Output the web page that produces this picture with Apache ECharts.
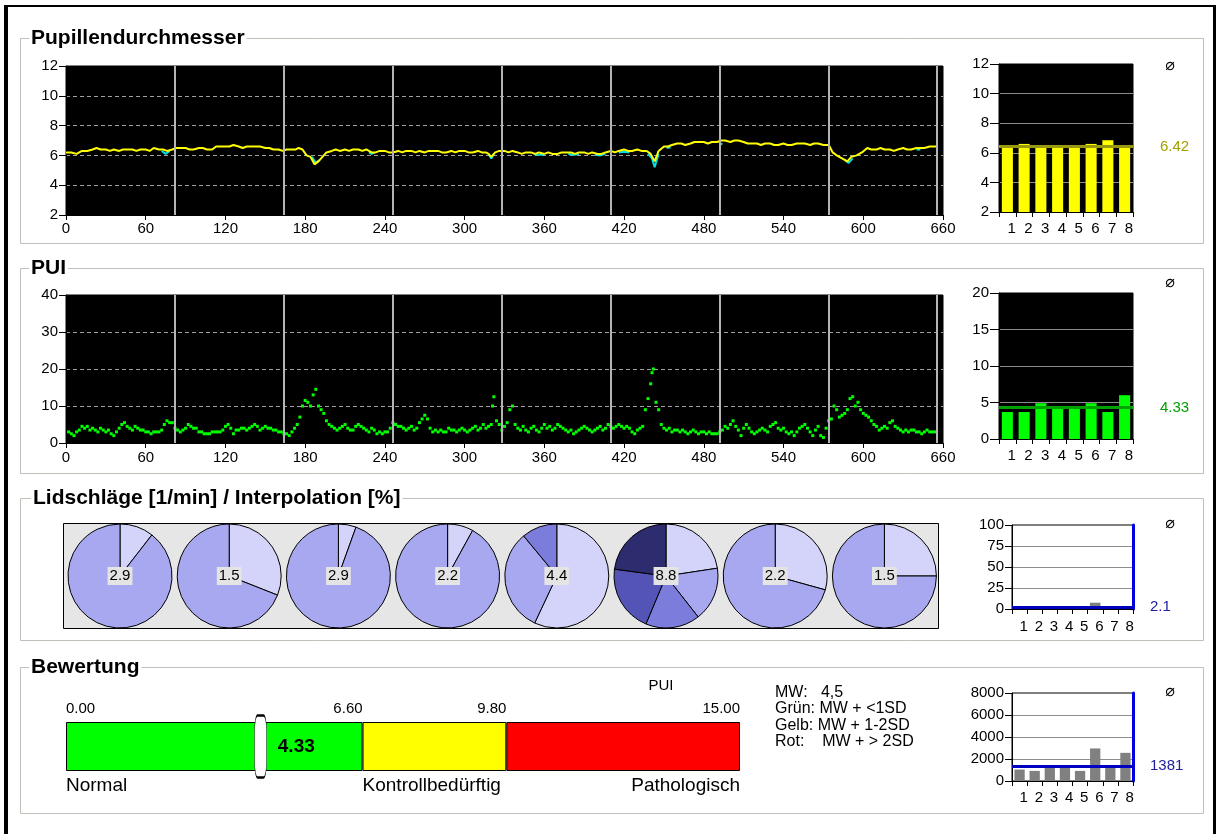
<!DOCTYPE html>
<html>
<head>
<meta charset="utf-8">
<script src="https://cdn.jsdelivr.net/npm/echarts@6/dist/echarts.min.js"></script>
<style>
html, body { margin: 0; padding: 0; background: #fff; }
#main { width: 1218px; height: 834px; }
</style>
</head>
<body>
<div id="main"></div>
<script>
// ---- data ----
var pupilYellow = [[0,6.2],[4,6.2],[8,6.1],[12,6.3],[16,6.3],[20,6.4],[23,6.5],[26,6.4],[30,6.4],[33,6.3],[36,6.4],[40,6.3],[43,6.4],[46,6.4],[50,6.4],[53,6.3],[56,6.4],[60,6.4],[63,6.3],[66,6.5],[70,6.4],[73,6.4],[76,6.3],[80,6.4],[83,6.5],[86,6.5],[90,6.5],[93,6.4],[96,6.4],[100,6.5],[103,6.5],[106,6.4],[110,6.4],[113,6.6],[116,6.6],[120,6.6],[123,6.6],[126,6.7],[130,6.6],[133,6.5],[136,6.6],[140,6.6],[143,6.6],[146,6.6],[150,6.5],[153,6.5],[156,6.4],[160,6.4],[163,6.3],[166,6.4],[170,6.4],[173,6.4],[175,6.5],[178,6.4],[181,6.0],[184,5.9],[187,5.4],[190,5.6],[193,5.9],[196,6.2],[200,6.3],[203,6.4],[206,6.3],[210,6.4],[213,6.3],[216,6.4],[220,6.4],[223,6.3],[226,6.4],[230,6.2],[233,6.2],[236,6.3],[240,6.3],[243,6.2],[246,6.2],[250,6.3],[253,6.2],[256,6.3],[260,6.3],[263,6.2],[266,6.3],[270,6.2],[273,6.3],[276,6.3],[280,6.3],[283,6.2],[286,6.2],[290,6.3],[293,6.2],[296,6.3],[300,6.3],[303,6.2],[306,6.2],[310,6.3],[313,6.2],[316,6.2],[318,6.1],[320,5.9],[323,6.2],[326,6.3],[330,6.3],[333,6.2],[336,6.3],[340,6.2],[343,6.1],[346,6.2],[350,6.2],[353,6.1],[356,6.2],[360,6.1],[363,6.2],[366,6.1],[370,6.1],[373,6.2],[376,6.2],[380,6.2],[383,6.1],[386,6.2],[390,6.2],[393,6.1],[396,6.2],[400,6.1],[403,6.1],[406,6.2],[410,6.3],[413,6.2],[416,6.3],[420,6.4],[423,6.3],[426,6.3],[430,6.4],[433,6.3],[437,6.3],[440,6.1],[443,5.6],[446,6.3],[450,6.6],[453,6.6],[456,6.7],[460,6.8],[463,6.8],[466,6.7],[470,6.8],[473,6.9],[476,6.9],[480,6.9],[483,6.8],[486,6.9],[490,6.9],[493,7.0],[496,7.0],[500,6.9],[503,7.0],[506,7.0],[510,6.9],[513,6.8],[516,6.8],[520,6.8],[523,6.7],[526,6.8],[530,6.8],[533,6.7],[536,6.7],[540,6.8],[543,6.7],[546,6.7],[550,6.8],[553,6.8],[556,6.8],[560,6.7],[563,6.8],[566,6.8],[570,6.7],[574,6.7],[577,6.2],[580,6.0],[584,5.8],[588,5.6],[591,5.9],[595,6.0],[599,6.2],[603,6.5],[606,6.4],[610,6.4],[613,6.5],[616,6.4],[620,6.4],[623,6.3],[626,6.4],[630,6.5],[633,6.4],[636,6.4],[640,6.5],[643,6.5],[646,6.5],[650,6.6],[655,6.6]];
// cyan trace only where it shows under the yellow one (null breaks the line)
var pupilCyan = [[72,6.3],[75,6.1],[78,6.3],[79,null],[185,5.9],[188,5.5],[191,5.7],[192,null],[228,6.2],[230,6.1],[232,6.2],[233,null],[318,6.1],[320,5.8],[322,6.1],[323,null],[352,6.1],[356,6.05],[360,6.05],[361,null],[378,6.1],[382,6.05],[386,6.1],[387,null],[398,6.05],[402,6.0],[406,6.1],[407,null],[416,6.2],[420,6.25],[424,6.2],[425,null],[438,6.1],[441,5.8],[443,5.2],[446,6.1],[447,null],[452,6.5],[455,6.55],[456,null],[492,6.8],[494,6.75],[495,null],[586,5.7],[589,5.5],[592,5.8],[593,null],[640,6.4],[643,6.4]];
var puiPoints = [[2,3],[4,2.5],[6,2],[8,3],[10,3.5],[12,4.5],[14,4],[16,4.5],[18,3.5],[20,4],[22,3.5],[24,3],[26,4],[28,3.5],[30,3],[32,3.5],[34,2.5],[36,2],[38,3],[40,4],[42,5],[44,5.5],[46,4.5],[48,4],[50,3.5],[52,4.5],[54,4],[56,3.5],[58,3.5],[60,3],[62,3],[64,2.5],[66,3],[68,3],[70,3],[72,3.5],[74,5],[76,6],[78,5.5],[80,5.5],[82,4],[84,3.5],[86,3],[88,3.5],[90,4],[92,5],[94,4.5],[96,4],[98,4],[100,3],[102,3],[104,2.5],[106,2.5],[108,2.5],[110,3],[112,3],[114,3],[116,3],[118,3.5],[120,4.5],[122,5],[124,4],[126,2.5],[128,3.5],[130,3.5],[132,4],[134,4],[136,3.5],[138,4],[140,4.5],[142,5],[144,4.5],[146,3.5],[148,4],[150,4.5],[152,4],[154,4],[156,3.5],[158,3.5],[160,3],[162,3],[164,2.5],[166,2.5],[168,2],[170,3],[172,4],[174,5],[176,7],[178,10],[180,11.5],[182,11],[184,10],[186,13],[188,14.5],[190,10],[192,9],[194,8],[196,6],[198,5],[200,4.5],[202,4],[204,3.5],[206,4],[208,4.5],[210,5],[212,4],[214,3.5],[216,3.5],[218,4.5],[220,5],[222,4.5],[224,4],[226,3.5],[228,3],[230,4],[232,3.5],[234,2.5],[236,3],[238,2.5],[240,3],[242,3],[244,4],[246,5.5],[248,5],[250,4.5],[252,4.5],[254,4],[256,3.5],[258,4],[260,4.5],[262,3.5],[264,4],[266,5.5],[268,6.5],[270,7.5],[272,6.5],[274,4],[276,3],[278,3.5],[280,3],[282,3.5],[284,3],[286,3],[288,4],[290,3.5],[292,3.5],[294,3],[296,3.5],[298,4],[300,3.5],[302,3],[304,3.5],[306,4],[308,4.5],[310,3.5],[312,4],[314,5],[316,4],[318,4.5],[320,5],[321,10],[322,12.5],[324,6],[326,5],[328,3.5],[330,4.5],[332,5.5],[334,9],[336,10],[338,5],[340,4],[342,3.5],[344,4.5],[346,3.5],[348,3],[350,4],[352,4.5],[354,3.5],[356,3],[358,4],[360,5],[362,4],[364,4.5],[366,3.5],[368,4],[370,5],[372,4.5],[374,4],[376,3.5],[378,3],[380,3.5],[382,2.5],[384,3],[386,3.5],[388,4],[390,4.5],[392,4],[394,3.5],[396,3],[398,3.5],[400,4],[402,4.5],[404,3.5],[406,4],[408,5],[410,4.5],[412,4],[414,4.5],[416,5],[418,4.5],[420,4],[422,4.5],[424,4],[426,3],[428,2.5],[430,3.5],[432,4],[434,4.5],[436,9],[438,12],[440,16],[441,19],[442,20],[444,11],[446,9],[448,5],[450,4],[452,3.5],[454,4],[456,3],[458,3.5],[460,3.5],[462,3],[464,3.5],[466,3],[468,2.5],[470,3],[472,3.5],[474,3],[476,2.5],[478,3],[480,3],[482,2.5],[484,3],[486,2.5],[488,2.5],[490,2.5],[492,3],[494,3.5],[496,4.5],[498,4],[500,5],[502,6],[504,4.5],[506,3.5],[508,2],[510,4],[512,5],[514,4],[516,3],[518,2.5],[520,3],[522,3.5],[524,4],[526,3.5],[528,3],[530,4.5],[532,5],[534,5.5],[536,4],[538,3.5],[540,4],[542,3],[544,2.5],[546,3],[548,2],[550,3],[552,4],[554,4.5],[556,5],[558,4],[560,3],[562,2],[564,3.5],[566,4.5],[568,2],[570,1.5],[572,4],[574,6],[576,6.5],[578,10],[580,9],[582,7],[584,7.5],[586,8],[588,9],[590,12],[592,12.5],[594,10],[596,11],[598,9],[600,8],[602,7.5],[604,7],[606,6],[608,5],[610,4.5],[612,3.5],[614,4],[616,4.5],[618,4],[620,5.5],[622,6],[624,4.5],[626,4],[628,3.5],[630,3],[632,3.5],[634,3],[636,3.5],[638,3.5],[640,3],[642,3],[644,2.5],[646,3],[648,3.5],[650,3],[652,3],[654,3]];
var segmentEnds = [82, 164, 246, 328, 410, 492, 574, 655];
var segLabels = ['1', '2', '3', '4', '5', '6', '7', '8'];
var pupilSeg = [6.45, 6.6, 6.45, 6.45, 6.45, 6.6, 6.85, 6.45];
var pupilMean = 6.42;
var puiSeg = [3.7, 3.7, 4.9, 4.2, 4.2, 4.9, 3.7, 6.0];
var puiMean = 4.33;
var blinkRates = [2.9, 1.5, 2.9, 2.2, 4.4, 8.8, 2.2, 1.5];
var interpShares = [[10.5, 89.5], [31, 69], [5.5, 94.5], [8, 92], [57, 32, 11], [22.6, 16.8, 16.9, 20.8, 22.9], [29.3, 70.7], [25, 75]];
var interpSeg = [1, 1, 1, 1, 3.6, 7.5, 1, 1];
var interpMean = 2.1;
var puiThresholds = [0, 6.6, 9.8, 15];
var zoneNames = ['Normal', 'Kontrollbedürftig', 'Pathologisch'];
var zoneLabelAt = [0, 6.6, 15];
var puiValue = 4.33;
var countSeg = [1040, 920, 1430, 1190, 920, 2960, 1430, 2560];
var countMean = 1381;

// ---- styles ----
var FONT = '"Liberation Sans", Arial, sans-serif';
var sliceColors = ['#d4d4fa', '#a8a8f0', '#7c7cdc', '#5454b6', '#2c2c6e'];
var bandColors = ['#00ff00', '#ffff00', '#ff0000'];
var lab = { color: '#000', fontSize: 15, fontFamily: FONT };

function timeX(grid, margin) {
  return {
    gridIndex: grid, type: 'value', min: 0, max: 660, interval: 60,
    axisLine: { show: true, onZero: false, lineStyle: { color: '#000' } },
    axisTick: { show: true, length: 5, lineStyle: { color: '#000' } },
    axisLabel: Object.assign({ margin: margin }, lab),
    splitLine: { show: false }
  };
}
function segX(grid, margin) {
  return {
    gridIndex: grid, type: 'category', data: segLabels, boundaryGap: true,
    axisLine: { show: true, onZero: false, lineStyle: { color: '#000' } },
    axisTick: { show: true, length: 5, interval: 0, lineStyle: { color: '#000' } },
    axisLabel: Object.assign({ margin: margin, interval: 0, align: 'left' }, lab)
  };
}
function valY(grid, min, max, step, dashed, tickLen, margin) {
  return {
    gridIndex: grid, type: 'value', min: min, max: max, interval: step,
    axisLine: { show: true, onZero: false, lineStyle: { color: '#000' } },
    axisTick: { show: true, length: tickLen, lineStyle: { color: '#000' } },
    axisLabel: Object.assign({ margin: margin, formatter: function (v) { return String(v); } }, lab),
    splitLine: { show: true, showMinLine: false, showMaxLine: false,
      lineStyle: { color: dashed ? '#a0a0a0' : '#8c8c8c', type: dashed ? [4, 3] : 'solid', width: 1 } }
  };
}
function blueY(grid) {
  return {
    gridIndex: grid, type: 'value', position: 'right', min: 0, max: 1,
    axisLine: { show: true, onZero: false, lineStyle: { color: '#0000e0', width: 3 } },
    axisTick: { show: false }, axisLabel: { show: false }, splitLine: { show: false }
  };
}
var segLines = {
  silent: true, symbol: ['none', 'none'], label: { show: false },
  lineStyle: { color: '#b4b4b4', width: 2, type: 'solid' },
  data: segmentEnds.map(function (s) { return { xAxis: s }; })
};
function meanLine(v, color, labelColor, dist, width) {
  return {
    silent: true, symbol: ['none', 'none'],
    lineStyle: { color: color, width: width, type: 'solid' },
    label: { show: true, position: 'end', distance: dist, color: labelColor, fontSize: 15, fontFamily: FONT, formatter: String(v) },
    data: [{ yAxis: v }]
  };
}

var series = [
  { type: 'line', xAxisIndex: 0, yAxisIndex: 0, data: pupilCyan, connectNulls: false, showSymbol: false, lineStyle: { color: '#00e0e0', width: 2 }, silent: true },
  { type: 'line', xAxisIndex: 0, yAxisIndex: 0, data: pupilYellow, showSymbol: false, lineStyle: { color: '#ffff00', width: 2 }, silent: true, markLine: segLines },
  { type: 'bar', xAxisIndex: 1, yAxisIndex: 1, data: pupilSeg, barWidth: '66%', itemStyle: { color: '#ffff00' }, silent: true,
    markLine: meanLine(pupilMean, '#9a9a10', '#a0a000', 27, 3) },
  { type: 'scatter', xAxisIndex: 2, yAxisIndex: 2, data: puiPoints, symbol: 'rect', symbolSize: [3, 3], itemStyle: { color: '#00ff00', opacity: 1 }, silent: true, markLine: segLines },
  { type: 'bar', xAxisIndex: 3, yAxisIndex: 3, data: puiSeg, barWidth: '66%', itemStyle: { color: '#00ff00' }, silent: true,
    markLine: meanLine(puiMean, '#00a000', '#00a000', 27, 3) },
  { type: 'bar', xAxisIndex: 4, yAxisIndex: 4, data: interpSeg, barWidth: '70%', itemStyle: { color: '#808080' }, silent: true,
    markLine: meanLine(interpMean, '#0000c0', '#2020a0', 17, 3) },
  { type: 'bar', xAxisIndex: 7, yAxisIndex: 7, data: countSeg, barWidth: '68%', itemStyle: { color: '#808080' }, silent: true,
    markLine: meanLine(countMean, '#0000c0', '#2020a0', 17, 3) }
];

// pies: blink rate in the middle, interpolation shares as slices
var pieStep = 109.2;
interpShares.forEach(function (shares, i) {
  series.push({
    type: 'pie', center: [120 + i * pieStep, 576], radius: 52, startAngle: 90, clockwise: true,
    silent: true, emphasis: { disabled: true }, avoidLabelOverlap: false,
    label: { show: false, position: 'center' }, labelLine: { show: false },
    itemStyle: { borderColor: '#000', borderWidth: 1 },
    data: shares.map(function (v, k) {
      var d = { value: v, itemStyle: { color: sliceColors[k] } };
      if (k === 0) {
        d.label = { show: true, position: 'center', formatter: blinkRates[i].toFixed(1),
          color: '#000', fontSize: 15, fontFamily: FONT, backgroundColor: '#e4e4e4', padding: [2, 2, 1, 2] };
      }
      return d;
    })
  });
});

// gauge bands + marker
for (var k = 0; k < 3; k++) {
  series.push({
    type: 'bar', xAxisIndex: 5, yAxisIndex: 6, stack: 'band', barWidth: '100%', silent: true,
    data: [puiThresholds[k + 1] - puiThresholds[k]],
    itemStyle: { color: bandColors[k], borderColor: '#000', borderWidth: 1 }
  });
}
series.push({
  type: 'scatter', xAxisIndex: 5, yAxisIndex: 6, data: [[puiValue, 0]], silent: true, z: 5,
  symbol: 'roundRect', symbolSize: [12, 62],
  itemStyle: { color: '#fff', opacity: 1, borderColor: '#000', borderWidth: 1 },
  label: { show: true, position: 'right', distance: 11, formatter: puiValue.toFixed(2),
    fontWeight: 'bold', fontSize: 19, fontFamily: FONT, color: '#000' }
});

function box(x, y, w, h) {
  return { type: 'rect', shape: { x: x + 0.5, y: y + 0.5, width: w, height: h }, style: { fill: 'none', stroke: '#c0c0b8', lineWidth: 1 } };
}
function title(x, y, t) {
  return { type: 'text', x: x, y: y, z: 3, style: { text: t, font: 'bold 21px ' + FONT, fill: '#000', verticalAlign: 'middle', backgroundColor: '#fff', padding: [0, 2] } };
}
function note(x, y, t, color, align, size, family) {
  return { type: 'text', x: x, y: y, z: 3, style: { text: t, fill: color || '#000', align: align || 'center', verticalAlign: 'middle', font: (size || 15) + 'px ' + (family || FONT) } };
}

var option = {
  animation: false,
  grid: [
    { left: 66, top: 66, width: 877, height: 149, show: true, backgroundColor: '#000', borderColor: '#000' },
    { left: 999, top: 64, width: 134, height: 148, show: true, backgroundColor: '#000', borderColor: '#000' },
    { left: 66, top: 295, width: 877, height: 148, show: true, backgroundColor: '#000', borderColor: '#000' },
    { left: 999, top: 293, width: 134, height: 146, show: true, backgroundColor: '#000', borderColor: '#000' },
    { left: 1012, top: 525, width: 121, height: 84, show: true, backgroundColor: '#fff', borderColor: '#000', borderWidth: 1 },
    { left: 66, top: 722, width: 674, height: 49 },
    { left: 1012, top: 693, width: 121, height: 88, show: true, backgroundColor: '#fff', borderColor: '#000', borderWidth: 1 }
  ],
  xAxis: [
    timeX(0, 6),
    segX(1, 9),
    timeX(2, 7),
    segX(3, 9),
    segX(4, 10),
    { gridIndex: 5, type: 'value', position: 'top', min: 0, max: 15,
      axisLine: { show: false }, axisTick: { show: false }, splitLine: { show: false },
      axisLabel: Object.assign({ customValues: puiThresholds, formatter: function (v) { return v.toFixed(2); },
        align: 'right', alignMinLabel: 'left', margin: 6 }, lab) },
    { gridIndex: 5, type: 'value', position: 'bottom', min: 0, max: 15,
      axisLine: { show: false }, axisTick: { show: false }, splitLine: { show: false },
      axisLabel: { customValues: zoneLabelAt, formatter: function (v) { return zoneNames[zoneLabelAt.indexOf(v)] || ''; },
        align: 'left', alignMaxLabel: 'right', margin: 5, color: '#000', fontSize: 19, fontFamily: FONT } },
    segX(6, 9)
  ],
  yAxis: [
    valY(0, 2, 12, 2, true, 7, 8),
    valY(1, 2, 12, 2, false, 9, 10),
    valY(2, 0, 40, 10, true, 7, 8),
    valY(3, 0, 20, 5, false, 9, 10),
    valY(4, 0, 100, 25, false, 7, 8),
    blueY(4),
    { gridIndex: 5, type: 'category', data: ['PUI'], show: false },
    valY(6, 0, 8000, 2000, false, 7, 8),
    blueY(6)
  ],
  series: series,
  graphic: [
    { type: 'rect', shape: { x: 4, y: 5, width: 1212, height: 2 }, style: { fill: '#000' } },
    { type: 'rect', shape: { x: 4, y: 5, width: 4, height: 829 }, style: { fill: '#000' } },
    { type: 'rect', shape: { x: 1213, y: 5, width: 3, height: 829 }, style: { fill: '#000' } },
    box(20, 38, 1183, 205),
    box(20, 268, 1183, 205),
    box(20, 498, 1183, 142),
    box(20, 667, 1183, 146),
    title(29, 38, 'Pupillendurchmesser'),
    title(29, 268, 'PUI'),
    title(31, 498, 'Lidschläge [1/min] / Interpolation [%]'),
    title(29, 667, 'Bewertung'),
    { type: 'rect', shape: { x: 63.5, y: 523.5, width: 875, height: 105 }, style: { fill: '#e6e6e6', stroke: '#000', lineWidth: 1 } },
    note(1170, 66, '⌀', '#000', 'center', 16, '"DejaVu Sans"'),
    note(1170, 283, '⌀', '#000', 'center', 16, '"DejaVu Sans"'),
    note(1170, 524, '⌀', '#000', 'center', 16, '"DejaVu Sans"'),
    note(1170, 692, '⌀', '#000', 'center', 16, '"DejaVu Sans"'),
    note(661, 686, 'PUI', '#000', 'center', 15),
    { type: 'text', x: 775, y: 684, z: 3, style: { text: 'MW:   4,5\nGrün: MW + <1SD\nGelb: MW + 1-2SD\nRot:    MW + > 2SD',
      fill: '#000', font: '16px ' + FONT, lineHeight: 16.5, verticalAlign: 'top' } }
  ]
};

var chart = echarts.init(document.getElementById('main'));
chart.setOption(option);
</script>
</body>
</html>
